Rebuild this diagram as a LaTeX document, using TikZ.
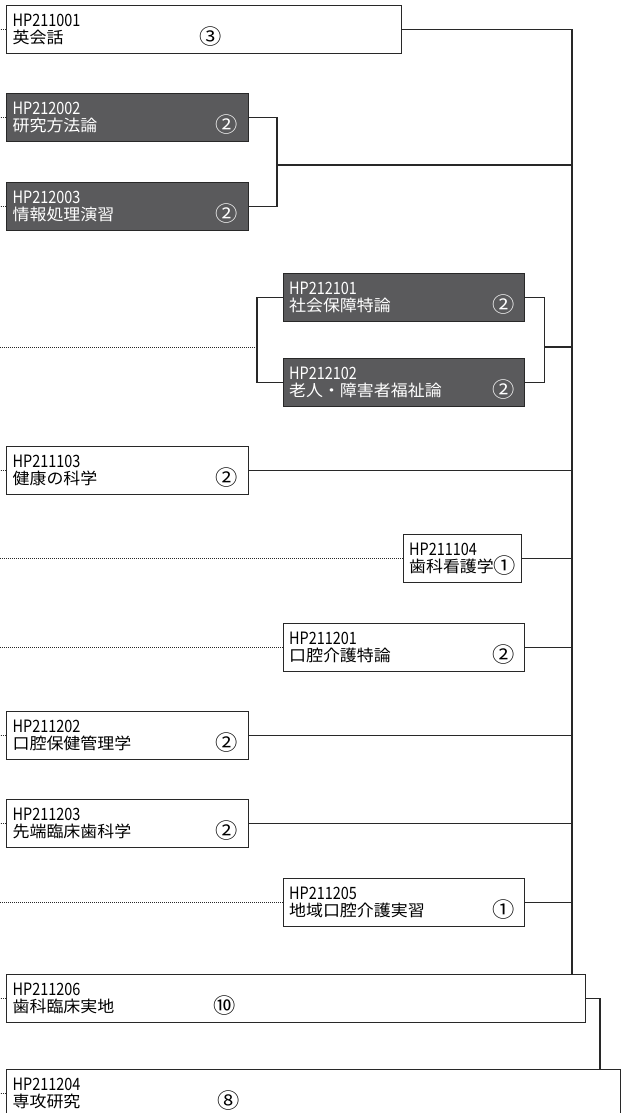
\documentclass[tikz,border=0pt]{standalone}
\usepackage{fontspec}
\newfontfamily\jpfont[FakeStretch=1.06]{Noto Sans CJK JP}
\newfontfamily\codefont[FakeStretch=0.85]{Noto Sans CJK JP}
\definecolor{wire}{RGB}{40,40,40}
\definecolor{corefill}{RGB}{90,90,92}
\newcommand{\credit}[1]{\raisebox{-1.5pt}[0pt][0pt]{\fontsize{21}{16}\selectfont #1}}
\newcommand{\course}[4][203pt]{{\codefont\fontsize{17}{16}\selectfont #2}\\\makebox[#1][l]{#3}\credit{#4}}

\begin{document}
\begin{tikzpicture}[x=1pt, y=-1pt,
    course/.style = {draw=wire, line width=1.2pt, fill=white, anchor=north west,
        minimum height=48pt, inner xsep=6pt, inner ysep=0pt, align=left,
        text width=#1, font=\jpfont\fontsize{16}{16.5}\selectfont},
    course/.default = 229.5pt,
    core/.style = {course=#1, fill=corefill, text=white},
    core/.default = 229.5pt,
    ln/.style = {draw=wire, line width=1.2pt},
    dots/.style = {draw=wire, line width=0.8pt, dash pattern=on 0.8pt off 1.2pt}]
        \path[use as bounding box, clip] (0,0) rectangle (621,1113);

        \coordinate (edge) at (0,0);
        \coordinate (bus) at (572,0);

        \node[course=383pt] (b1) at (6,5) {\course[187pt]{HP211001}{英会話}{③}};
        \node[core] (b2) at (6,93) {\course{HP212002}{研究方法論}{②}};
        \node[core] (b3) at (6,182) {\course{HP212003}{情報処理演習}{②}};
        \node[core] (b4) at (282.5,273) {\course{HP212101}{社会保障特論}{②}};
        \node[core] (b5) at (282.5,358) {\course{HP212102}{老人・障害者福祉論}{②}};
        \node[course] (b6) at (6,446) {\course{HP211103}{健康の科学}{②}};
        \node[course=106.5pt] (b7) at (402.5,534) {{\codefont\fontsize{17}{16}\selectfont HP211104}\\歯科看護学\credit{①}};
        \node[course] (b8) at (282.5,623) {\course{HP211201}{口腔介護特論}{②}};
        \node[course] (b9) at (6,711) {\course{HP211202}{口腔保健管理学}{②}};
        \node[course] (b10) at (6,799) {\course{HP211203}{先端臨床歯科学}{②}};
        \node[course] (b11) at (282.5,878) {\course{HP211205}{地域口腔介護実習}{①}};
        \node[course=567pt] (b12) at (6,974) {\course[201pt]{HP211206}{歯科臨床実地}{⑩}};
        \node[course=602pt] (b13) at (6,1069) {\course[205pt]{HP211204}{専攻研究}{⑧}};

        % main line on the right
        \draw[ln] (b1.east) -- (b1.east -| bus) -- (b12.north -| bus);

        \coordinate (j23) at (277,165);
        \draw[ln] (b2.east) -| (j23) |- (b3.east);
        \draw[ln] (j23) -- (j23 -| bus);

        \coordinate (j45l) at (257,347);
        \coordinate (j45r) at (544.5,347);
        \draw[ln] (b4.west) -| (j45l) |- (b5.west);
        \draw[dots] (j45l) -- (j45l -| edge);
        \draw[ln] (b4.east) -| (j45r) |- (b5.east);
        \draw[ln] (j45r) -- (j45r -| bus);

        \draw[ln] (b6.east) -- (b6.east -| bus);
        \draw[ln] (b7.east) -- (b7.east -| bus);
        \draw[ln] (b8.east) -- (b8.east -| bus);
        \draw[ln] (b9.east) -- (b9.east -| bus);
        \draw[ln] (b10.east) -- (b10.east -| bus);
        \draw[ln] (b11.east) -- (b11.east -| bus);

        \coordinate (j1213) at (600,0);
        \draw[ln] (b12.east) -| (b13.north -| j1213);

        % dotted lines out to the left
        \draw[dots] (b1.west) -- (b1.west -| edge);
        \draw[dots] (b2.west) -- (b2.west -| edge);
        \draw[dots] (b3.west) -- (b3.west -| edge);
        \draw[dots] (b6.west) -- (b6.west -| edge);
        \draw[dots] (b7.west) -- (b7.west -| edge);
        \draw[dots] (b8.west) -- (b8.west -| edge);
        \draw[dots] (b9.west) -- (b9.west -| edge);
        \draw[dots] (b10.west) -- (b10.west -| edge);
        \draw[dots] (b11.west) -- (b11.west -| edge);
        \draw[dots] (b12.west) -- (b12.west -| edge);
        \draw[dots] (b13.west) -- (b13.west -| edge);
    \end{tikzpicture}
\end{document}
